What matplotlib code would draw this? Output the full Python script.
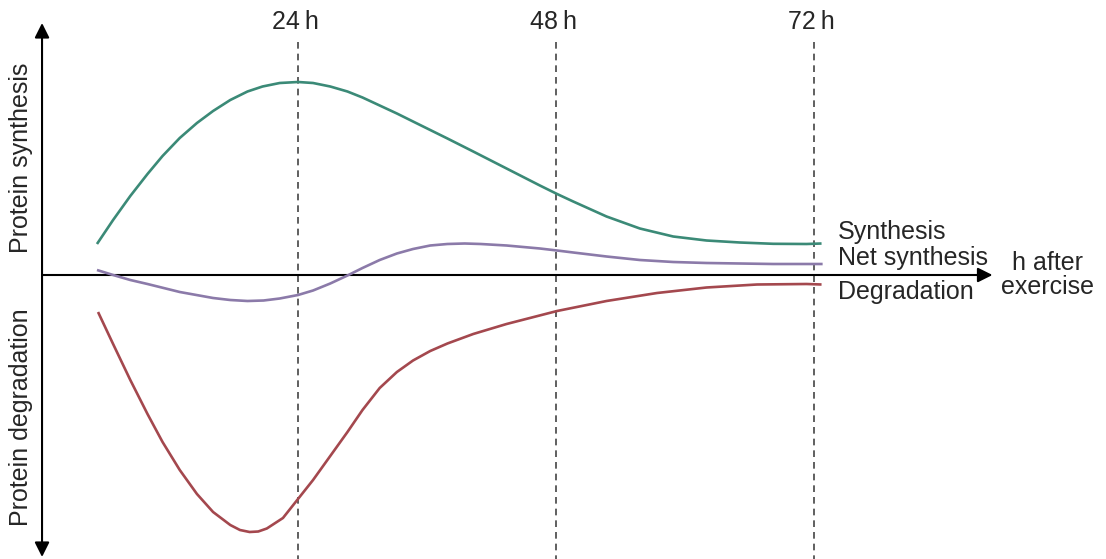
import matplotlib.pyplot as plt

plt.rcParams['font.family'] = ['Liberation Sans', 'DejaVu Sans']

# --- data (hours after exercise, arbitrary units) ---
synth_h = [5.3, 6.8, 8.4, 10.0, 11.4, 13.0, 14.6, 16.1, 17.7, 19.3, 20.7, 22.3, 24.0,
           25.4, 27.0, 28.6, 30.0, 31.6, 33.2, 34.7, 36.3, 37.9, 40.3, 43.4, 46.5,
           48.1, 49.6, 52.7, 55.8, 58.9, 62.0, 65.1, 68.2, 71.3, 72.7]
synth_v = [3.1, 5.5, 7.9, 10.1, 11.9, 13.7, 15.2, 16.4, 17.5, 18.35, 18.85, 19.2, 19.3,
           19.2, 18.85, 18.35, 17.75, 16.95, 16.15, 15.35, 14.5, 13.65, 12.35, 10.65, 8.95,
           8.1, 7.35, 5.85, 4.65, 3.85, 3.45, 3.25, 3.12, 3.1, 3.15]

net_h = [5.3, 6.8, 8.4, 10.0, 13.0, 16.1, 17.7, 19.3, 20.8, 22.3, 24.0, 25.4, 27.0,
         28.6, 30.0, 31.6, 33.2, 34.7, 36.3, 37.9, 39.5, 41.0, 43.4, 46.5, 48.1,
         49.6, 52.7, 55.8, 58.9, 62.0, 65.1, 68.2, 72.8]
net_v = [0.5, 0.0, -0.5, -0.9, -1.7, -2.3, -2.5, -2.6, -2.55, -2.35, -2.0, -1.55, -0.85,
         -0.05, 0.7, 1.5, 2.15, 2.6, 2.95, 3.1, 3.15, 3.1, 2.95, 2.65, 2.45,
         2.25, 1.85, 1.5, 1.3, 1.2, 1.15, 1.1, 1.1]

degr_h = [5.4, 6.8, 8.4, 10.0, 11.4, 13.0, 14.6, 16.1, 17.7, 18.6, 19.5, 20.3, 21.1,
          22.6, 24.0, 25.4, 27.0, 28.6, 30.0, 31.6, 33.2, 34.7, 36.3, 37.9, 40.3,
          43.4, 48.1, 52.7, 57.4, 62.0, 66.7, 71.3, 72.7]
degr_v = [-3.7, -6.9, -10.5, -13.9, -16.7, -19.5, -21.9, -23.7, -25.0, -25.5, -25.7,
          -25.65, -25.35, -24.3, -22.4, -20.5, -18.1, -15.7, -13.5, -11.3, -9.7, -8.55,
          -7.6, -6.85, -5.9, -4.9, -3.6, -2.6, -1.8, -1.25, -0.95, -0.9, -0.95]

marks_h = [24, 48, 72]
mark_labels = ['24\u2009h', '48\u2009h', '72\u2009h']

green = '#3b8a77'
purple = '#8b7aa9'
red = '#a4484e'
txt = '#262626'
fs = 18

fig = plt.figure(figsize=(11.06, 5.59), dpi=100)
ax = fig.add_axes([0, 0, 1, 1])
ax.set_xlim(-3.72, 99.16)
ax.set_ylim(-28.4, 27.5)
ax.axis('off')

# dashed time markers
for h, lab in zip(marks_h, mark_labels):
    ax.plot([h, h], [23.3, -28.4], color='#444444', lw=1.2, ls=(0, (4, 3)), zorder=1)
    ax.text(h - 0.25, 25.3, lab, ha='center', va='center', fontsize=fs, color=txt)

# axes arrows
ax.annotate('', xy=(88.6, 0), xytext=(0.19, 0),
            arrowprops=dict(arrowstyle='-|>', color='black', lw=1.5,
                            mutation_scale=22, shrinkA=0, shrinkB=0))
ax.annotate('', xy=(0.19, 25.2), xytext=(0.19, -28.2),
            arrowprops=dict(arrowstyle='<|-|>', color='black', lw=1.5,
                            mutation_scale=22, shrinkA=0, shrinkB=0))

# curves
for xs, ys, c in [(synth_h, synth_v, green), (net_h, net_v, purple), (degr_h, degr_v, red)]:
    ax.plot(xs, ys, color=c, lw=1.9, solid_capstyle='butt',
            solid_joinstyle='round', zorder=3)

# labels
ax.text(74.2, 4.3, 'Synthesis', ha='left', va='center', fontsize=fs, color=txt)
ax.text(74.2, 1.7, 'Net synthesis', ha='left', va='center', fontsize=fs, color=txt)
ax.text(74.2, -1.7, 'Degradation', ha='left', va='center', fontsize=fs, color=txt)
ax.text(93.7, 0.0, 'h after\nexercise', ha='center', va='center', fontsize=fs,
        color=txt, linespacing=0.95)

ax.text(-1.8, 11.7, 'Protein synthesis', rotation=90, ha='center', va='center',
        fontsize=fs, color=txt)
ax.text(-1.8, -14.2, 'Protein degradation', rotation=90, ha='center', va='center',
        fontsize=fs, color=txt)

fig.savefig('out.png', dpi=100)
